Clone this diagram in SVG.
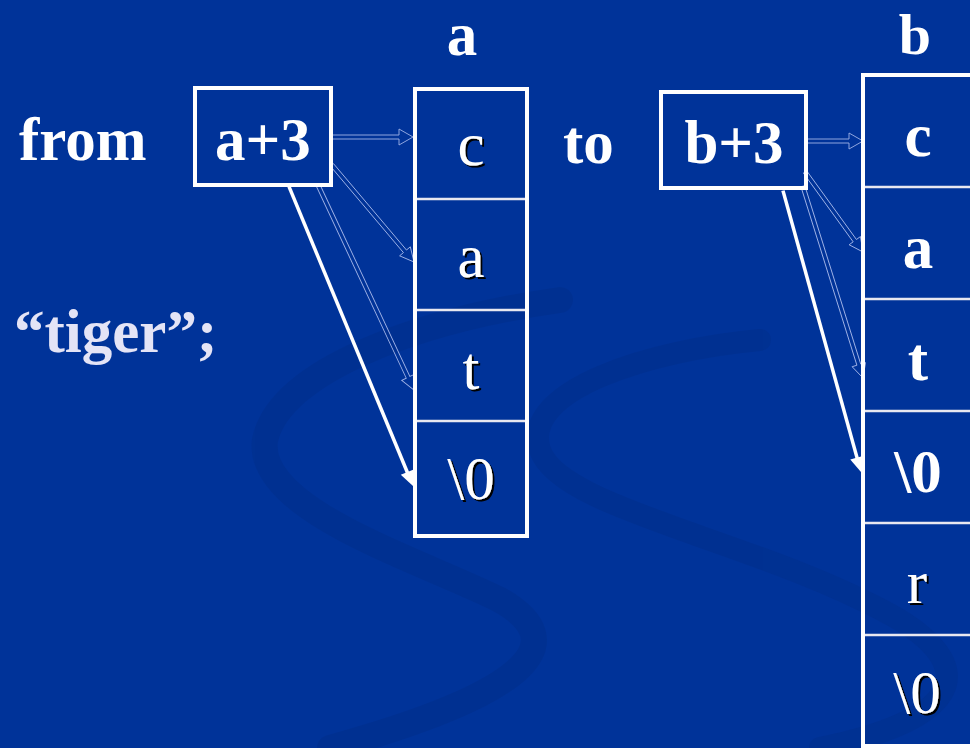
<svg xmlns="http://www.w3.org/2000/svg" width="970" height="748" viewBox="0 0 970 748">
<defs>
<filter id="shadow" x="-20%" y="-20%" width="140%" height="140%">
<feDropShadow dx="2" dy="2" stdDeviation="0.3" flood-color="#000000" flood-opacity="1"/>
</filter>
</defs>
<style>
.bg{fill:#003399}
.swoosh{fill:none;stroke:#00308e;stroke-linecap:round}
.box{fill:none;stroke:#ffffff;stroke-width:4}
.div{stroke:#e8e8f0;stroke-width:2.5}
.tb{font-family:"Liberation Serif","Times New Roman",serif;font-weight:bold;font-size:61px;fill:#ffffff}
.tr{font-family:"Liberation Serif","Times New Roman",serif;font-size:61px;fill:#ffffff;text-anchor:middle;filter:url(#shadow)}
.mid{text-anchor:middle}
.hollow{fill:none;stroke:#9fb2e6;stroke-width:0.9}
.solid{stroke:#ffffff;stroke-width:3.5;fill:none}
.head{fill:#ffffff}
</style>
<rect class="bg" x="0" y="0" width="970" height="748"/>
<g id="background-swirls" opacity="0.7">
<path class="swoosh" stroke-width="26" d="M560,300 C420,320 280,370 265,440 C255,510 420,560 500,600 C570,640 540,690 330,748"/>
<path class="swoosh" stroke-width="22" d="M760,340 C650,350 520,390 540,450 C560,510 760,540 900,620 C980,670 960,720 820,748"/>
</g>
<g id="connectors">
<path class="hollow" d="M331,135 L399,135 L399,129 L413,137 L399,145 L399,139 L331,139 Z"/>
<g transform="translate(414,262) rotate(49.8)"><path class="hollow" d="M-127,-2 L-14,-2 L-14,-7 L0,0 L-14,7 L-14,2 L-127,2 Z"/></g>
<g transform="translate(414,390) rotate(64.9)"><path class="hollow" d="M-226,-2 L-14,-2 L-14,-7 L0,0 L-14,7 L-14,2 L-226,2 Z"/></g>
<g transform="translate(413,486) rotate(67.5)"><line class="solid" x1="-324" y1="0" x2="-10" y2="0"/><path class="head" d="M0,0 L-15,-7 L-15,7 Z"/></g>
<path class="hollow" d="M806,139 L849,139 L849,133 L863,141 L849,149 L849,143 L806,143 Z"/>
<g transform="translate(863,252) rotate(54.1)"><path class="hollow" d="M-99,-2 L-14,-2 L-14,-7 L0,0 L-14,7 L-14,2 L-99,2 Z"/></g>
<g transform="translate(863,378) rotate(72.6)"><path class="hollow" d="M-201,-2 L-14,-2 L-14,-7 L0,0 L-14,7 L-14,2 L-201,2 Z"/></g>
<g transform="translate(861,472) rotate(74.5)"><line class="solid" x1="-292" y1="0" x2="-10" y2="0"/><path class="head" d="M0,0 L-15,-7 L-15,7 Z"/></g>
</g>
<g id="label-from"><text class="tb" x="19" y="160">from</text></g>
<g id="label-to"><text class="tb" x="563" y="163">to</text></g>
<g id="label-tiger"><text class="tb" x="14" y="352" style="fill:#e4e4f6">“tiger”;</text></g>
<g id="ptr-a3">
<rect class="box" x="195" y="88" width="136" height="97"/>
<text class="tb mid" x="263" y="160">a+3</text>
</g>
<g id="ptr-b3">
<rect class="box" x="661" y="92" width="145" height="96"/>
<text class="tb mid" x="734" y="163">b+3</text>
</g>
<g id="array-a">
<text class="tb mid" x="462" y="55">a</text>
<rect class="box" x="415" y="89" width="112" height="447"/>
<line class="div" x1="417" y1="199" x2="525" y2="199"/>
<line class="div" x1="417" y1="310" x2="525" y2="310"/>
<line class="div" x1="417" y1="421" x2="525" y2="421"/>
<text class="tr" x="471" y="165">c</text>
<text class="tr" x="471" y="277">a</text>
<text class="tr" x="471" y="389">t</text>
<text class="tr" x="471" y="499">\0</text>
</g>
<g id="array-b">
<text class="tb mid" x="915" y="54" style="font-size:58px">b</text>
<rect class="box" x="863" y="75" width="120" height="671"/>
<line class="div" x1="865" y1="187" x2="970" y2="187"/>
<line class="div" x1="865" y1="299" x2="970" y2="299"/>
<line class="div" x1="865" y1="411" x2="970" y2="411"/>
<line class="div" x1="865" y1="523" x2="970" y2="523"/>
<line class="div" x1="865" y1="635" x2="970" y2="635"/>
<text class="tb mid" x="918" y="156">c</text>
<text class="tb mid" x="918" y="268">a</text>
<text class="tb mid" x="918" y="380">t</text>
<text class="tb mid" x="918" y="492">\0</text>
<text class="tr" x="917" y="603">r</text>
<text class="tr" x="917" y="713">\0</text>
</g>
</svg>
